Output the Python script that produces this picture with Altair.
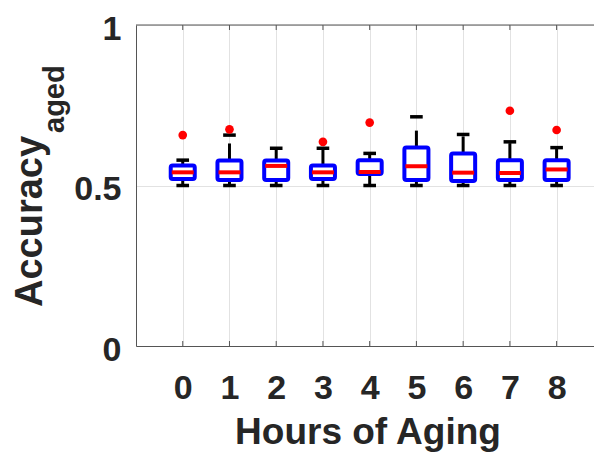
import altair as alt
import pandas as pd

# ---- data ----
hours = [0, 1, 2, 3, 4, 5, 6, 7, 8]
lower_whisker = [0.500, 0.500, 0.500, 0.500, 0.500, 0.500, 0.500, 0.500, 0.500]
q1 = [0.520, 0.517, 0.517, 0.520, 0.536, 0.517, 0.514, 0.517, 0.517]
median = [0.541, 0.541, 0.561, 0.541, 0.542, 0.560, 0.540, 0.539, 0.550]
q3 = [0.562, 0.578, 0.578, 0.562, 0.579, 0.618, 0.600, 0.579, 0.579]
upper_whisker = [0.579, 0.657, 0.616, 0.616, 0.600, 0.714, 0.659, 0.636, 0.618]
outlier_hours = [0, 1, 3, 4, 7, 8]
outlier_values = [0.657, 0.675, 0.636, 0.696, 0.733, 0.673]
x_ticks = [0, 1, 2, 3, 4, 5, 6, 7, 8]
y_ticks = [0, 0.5, 1]
x_title = "Hours of Aging"
y_title_main = "Accuracy"
y_title_sub = "aged"

FONT = "Liberation Sans"
TXT = "#262626"
AX = "#555555"
W, H = 458, 321

stats = pd.DataFrame({
    "hour": hours, "lw": lower_whisker, "q1": q1, "med": median,
    "q3": q3, "uw": upper_whisker,
})
outs = pd.DataFrame({"hour": outlier_hours, "val": outlier_values})

xs = alt.Scale(domain=[-1, 8.8], nice=False, zero=False)
ys = alt.Scale(domain=[0, 1], nice=False, zero=False)

base = alt.Chart(stats)

xaxis = alt.Axis(values=x_ticks, title=None, grid=True, gridColor="#e2e2e2",
                 ticks=False, tickSize=0, domainColor=AX, labelFont=FONT,
                 labelFontSize=34, labelFontWeight="bold", labelColor=TXT,
                 labelPadding=25, labelFlush=False)
yaxis = alt.Axis(values=y_ticks, title=None, grid=True, gridColor="#e2e2e2",
                 ticks=False, tickSize=0, domainColor=AX, labelFont=FONT,
                 labelFontSize=34, labelFontWeight="bold", labelColor=TXT,
                 labelPadding=15, labelOffset=4, labelExpr="datum.value",
                 labelFlush=False)

upper_wh = base.mark_rule(color="black", strokeWidth=3, strokeDash=[17, 14]).encode(
    x=alt.X("hour:Q", scale=xs, axis=xaxis),
    y=alt.Y("q3:Q", scale=ys, axis=yaxis),
    y2="uw:Q",
)
lower_wh = base.mark_rule(color="black", strokeWidth=3).encode(
    x=alt.X("hour:Q", scale=xs), y=alt.Y("q1:Q", scale=ys), y2="lw:Q"
)
cap_half = 0.135
caps_up = base.transform_calculate(a=f"datum.hour-{cap_half}", b=f"datum.hour+{cap_half}").mark_rule(
    color="black", strokeWidth=3.5).encode(
    x=alt.X("a:Q", scale=xs), x2="b:Q", y=alt.Y("uw:Q", scale=ys))
caps_lo = base.transform_calculate(a=f"datum.hour-{cap_half}", b=f"datum.hour+{cap_half}").mark_rule(
    color="black", strokeWidth=3.5).encode(
    x=alt.X("a:Q", scale=xs), x2="b:Q", y=alt.Y("lw:Q", scale=ys))

box_half = 0.257
boxes = base.transform_calculate(a=f"datum.hour-{box_half}", b=f"datum.hour+{box_half}").mark_rect(
    fill="white", stroke="#0000ff", strokeWidth=4, cornerRadius=2).encode(
    x=alt.X("a:Q", scale=xs), x2="b:Q", y=alt.Y("q1:Q", scale=ys), y2="q3:Q")

med_half = 0.235
meds = base.transform_calculate(a=f"datum.hour-{med_half}", b=f"datum.hour+{med_half}").mark_rule(
    color="#ff0000", strokeWidth=4).encode(
    x=alt.X("a:Q", scale=xs), x2="b:Q", y=alt.Y("med:Q", scale=ys))

outliers = alt.Chart(outs).mark_point(filled=True, shape="circle", size=75, color="#ff0000", opacity=1).encode(
    x=alt.X("hour:Q", scale=xs), y=alt.Y("val:Q", scale=ys))

tick_df = pd.DataFrame({"t": x_ticks})
ticks_bottom = alt.Chart(tick_df).mark_rule(color=AX, strokeWidth=1).encode(
    x=alt.X("t:Q", scale=xs), y=alt.value(H), y2=alt.value(H - 5))
ticks_top = alt.Chart(tick_df).mark_rule(color=AX, strokeWidth=1).encode(
    x=alt.X("t:Q", scale=xs), y=alt.value(0), y2=alt.value(5))

one = pd.DataFrame({"k": [0]})
top_border = alt.Chart(one).mark_rule(color=AX, strokeWidth=1).encode(
    x=alt.value(0), x2=alt.value(W), y=alt.value(0))

xt = alt.Chart(pd.DataFrame({"t": [x_title]})).mark_text(
    font=FONT, fontSize=37, fontWeight="bold", color=TXT, align="center", baseline="alphabetic").encode(
    text="t:N", x=alt.value(232), y=alt.value(419))
yt = alt.Chart(pd.DataFrame({"t": [y_title_main]})).mark_text(
    font=FONT, fontSize=38, fontWeight="bold", color=TXT, align="left", baseline="alphabetic", angle=270).encode(
    text="t:N", x=alt.value(-94), y=alt.value(282))
yts = alt.Chart(pd.DataFrame({"t": [y_title_sub]})).mark_text(
    font=FONT, fontSize=29, fontWeight="bold", color=TXT, align="left", baseline="alphabetic", angle=270).encode(
    text="t:N", x=alt.value(-72), y=alt.value(108))

chart = alt.layer(
    upper_wh, lower_wh, caps_up, caps_lo, boxes, meds, outliers,
    ticks_bottom, ticks_top, top_border, xt, yt, yts,
).properties(
    width=W, height=H,
    autosize=alt.AutoSizeParams(type="none"),
    padding={"left": 136, "top": 25, "right": 0, "bottom": 106},
).configure_view(stroke=None).configure(background="white")

chart.save("out.html", embed_options={"renderer": "svg", "actions": False})
